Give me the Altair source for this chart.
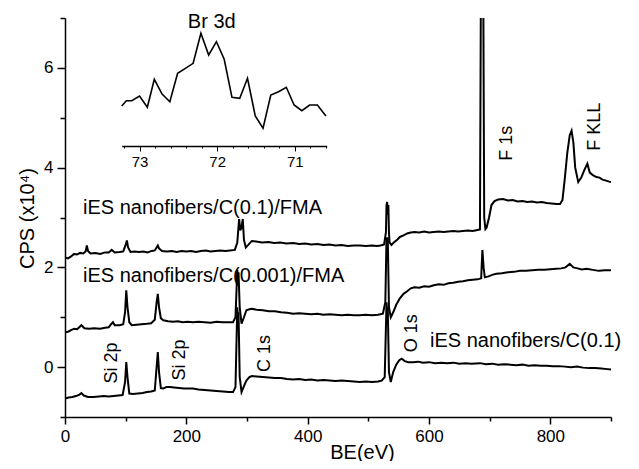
import altair as alt
import pandas as pd

FONT = "Liberation Sans"

# ---- main survey spectra: (BE in eV, CPS in 1e4) ----
spec_c01_fma = [
    (0, 2.20), (5, 2.18), (10, 2.22), (15, 2.27), (20, 2.26), (25, 2.29), (30, 2.28), (34, 2.32),
    (36, 2.44), (38, 2.33), (42, 2.28), (50, 2.29), (58, 2.27), (66, 2.30), (72, 2.30), (77, 2.35),
    (82, 2.30), (90, 2.31), (96, 2.32), (100, 2.45), (102, 2.54), (104, 2.40), (108, 2.31),
    (115, 2.32), (122, 2.31), (129, 2.32), (136, 2.30), (143, 2.33), (148, 2.34), (151, 2.40),
    (153, 2.44), (155, 2.38), (160, 2.33), (168, 2.32), (176, 2.33), (184, 2.31), (192, 2.33),
    (200, 2.32), (208, 2.33), (216, 2.31), (224, 2.33), (232, 2.34), (240, 2.32), (248, 2.33),
    (256, 2.34), (264, 2.33), (272, 2.34), (280, 2.35), (284, 2.50), (287, 2.97), (289, 2.74),
    (291, 2.80), (293, 2.97), (295, 2.55), (298, 2.40), (302, 2.45), (308, 2.53), (315, 2.52),
    (325, 2.50), (335, 2.51), (345, 2.49), (355, 2.50), (365, 2.48), (376, 2.49), (386, 2.47),
    (396, 2.48), (406, 2.46), (416, 2.47), (426, 2.45), (436, 2.46), (446, 2.44), (456, 2.45),
    (466, 2.43), (476, 2.44), (486, 2.44), (496, 2.43), (506, 2.44), (514, 2.43), (520, 2.44),
    (526, 2.46), (529, 2.70), (530, 3.25), (531, 3.31), (532, 3.05), (533, 3.25), (534, 2.70),
    (535, 2.50), (538, 2.45), (542, 2.50),
    (548, 2.56), (552, 2.61), (558, 2.64), (564, 2.68), (570, 2.70), (576, 2.71), (584, 2.70),
    (592, 2.72), (600, 2.70), (608, 2.71), (616, 2.72), (624, 2.71), (632, 2.72), (640, 2.73),
    (648, 2.72), (656, 2.73), (664, 2.74), (672, 2.73), (680, 2.75), (684, 2.76), (685.5, 7.5),
    (686.5, 7.0), (687.5, 7.5), (688.5, 7.0), (689.5, 7.5), (691, 3.0), (693, 2.77), (695, 2.80),
    (699, 3.0), (703, 3.25), (708, 3.33),
    (714, 3.36), (722, 3.37), (730, 3.34), (738, 3.35), (746, 3.32), (754, 3.33), (762, 3.31),
    (770, 3.32), (778, 3.30), (786, 3.31), (794, 3.29), (802, 3.28), (810, 3.27), (816, 3.27),
    (820, 3.35), (824, 3.80), (828, 4.30), (832, 4.65), (835, 4.74), (838, 4.50), (841, 4.00),
    (846, 3.71), (851, 3.80), (856, 3.95), (861, 4.08), (865, 3.90), (870, 3.85), (876, 3.81),
    (881, 3.80), (886, 3.76), (892, 3.74), (897, 3.72), (900, 3.71),
]

spec_c0001_fma = [
    (0, 0.70), (5, 0.71), (10, 0.74), (15, 0.77), (20, 0.76), (27, 0.84), (32, 0.78), (40, 0.77),
    (48, 0.78), (58, 0.77), (66, 0.79), (72, 0.80), (76, 0.86), (79, 0.90), (82, 0.84), (90, 0.84),
    (96, 0.86), (99, 1.10), (101, 1.54), (103, 1.20), (106, 0.90), (110, 0.84), (118, 0.85),
    (126, 0.86), (135, 0.87), (142, 0.88), (148, 0.95), (151, 1.30), (153, 1.47), (155, 1.20),
    (158, 0.98), (162, 0.94), (170, 0.92), (178, 0.91), (186, 0.92), (194, 0.90), (202, 0.91),
    (211, 0.90), (220, 0.91), (230, 0.90), (240, 0.89), (250, 0.91), (260, 0.90), (270, 0.90),
    (277, 0.90), (281, 1.00), (284, 1.95), (285, 1.80), (286, 1.90), (288, 1.20), (291, 0.87),
    (295, 1.00),
    (299, 1.14), (304, 1.16), (308, 1.17), (316, 1.15), (326, 1.14), (336, 1.12), (346, 1.12),
    (356, 1.10), (366, 1.09), (376, 1.07), (386, 1.08), (396, 1.07), (406, 1.06), (416, 1.07),
    (426, 1.05), (436, 1.06), (446, 1.05), (456, 1.04), (466, 1.05), (476, 1.04), (486, 1.04),
    (496, 1.05), (506, 1.04), (516, 1.05), (524, 1.07), (528, 1.30), (530, 2.60), (531, 2.45),
    (532, 2.60), (534, 1.20), (537, 1.00), (541, 1.10), (546, 1.25), (552, 1.38), (558, 1.47),
    (564, 1.52),
    (570, 1.58), (576, 1.60), (584, 1.59), (592, 1.62), (600, 1.61), (608, 1.64), (616, 1.66),
    (624, 1.65), (632, 1.68), (640, 1.69), (648, 1.71), (656, 1.72), (664, 1.74), (672, 1.75),
    (680, 1.76), (686, 1.78), (688, 2.35), (690, 2.00), (692, 1.80), (698, 1.82), (704, 1.85),
    (711, 1.87), (720, 1.88), (730, 1.90), (740, 1.91), (750, 1.93), (760, 1.93), (770, 1.94),
    (780, 1.95), (790, 1.95), (800, 1.96), (810, 1.97), (818, 1.98), (825, 2.00), (832, 2.07),
    (838, 2.00), (845, 1.98), (852, 1.96), (860, 1.97), (870, 1.95), (880, 1.93), (890, 1.94),
    (900, 1.94),
]

spec_c01 = [
    (0, -0.63), (6, -0.61), (12, -0.60), (18, -0.58), (24, -0.55), (27, -0.52), (31, -0.57),
    (38, -0.60), (47, -0.60), (56, -0.59), (64, -0.58), (72, -0.59), (80, -0.58), (88, -0.57),
    (95, -0.56), (99, -0.30), (101, 0.10), (103, -0.20), (106, -0.53), (112, -0.54), (120, -0.53),
    (128, -0.52), (135, -0.50), (142, -0.49), (148, -0.47), (151, 0.00), (153, 0.30), (155, -0.10),
    (158, -0.42), (162, -0.43), (167, -0.40), (173, -0.40), (180, -0.41), (188, -0.42),
    (196, -0.43), (204, -0.43), (211, -0.43), (220, -0.45), (230, -0.46), (240, -0.47),
    (250, -0.48), (260, -0.49), (270, -0.50), (277, -0.50), (281, -0.40), (284, 1.20), (285, 1.00),
    (286, 1.10),
    (288, -0.20), (291, -0.50), (295, -0.38), (299, -0.27), (304, -0.20), (308, -0.18),
    (316, -0.19), (326, -0.20), (336, -0.21), (346, -0.22), (356, -0.22), (366, -0.24),
    (376, -0.25), (386, -0.24), (396, -0.26), (406, -0.25), (416, -0.27), (426, -0.26),
    (436, -0.27), (446, -0.28), (456, -0.27), (466, -0.28), (476, -0.29), (486, -0.30),
    (496, -0.29), (506, -0.30), (516, -0.29), (522, -0.27), (527, -0.20), (530, 1.30), (531, 1.10),
    (532, 1.20),
    (534, -0.10), (537, -0.30), (541, -0.10), (546, 0.05), (551, 0.14), (555, 0.17), (560, 0.12),
    (566, 0.10), (574, 0.10), (582, 0.11), (590, 0.09), (600, 0.10), (610, 0.08), (620, 0.09),
    (630, 0.08), (640, 0.09), (650, 0.07), (660, 0.08), (670, 0.07), (684, 0.08), (694, 0.06),
    (704, 0.07), (714, 0.05), (724, 0.06), (734, 0.05), (744, 0.04), (754, 0.05), (764, 0.03),
    (774, 0.04), (784, 0.03), (794, 0.03), (804, 0.02), (814, 0.02), (824, 0.01), (834, 0.00),
    (844, 0.01), (854, -0.01), (864, -0.02), (874, -0.02), (884, -0.03), (894, -0.04), (900, -0.05),
]

# ---- inset: Br 3d high-resolution region ----
br3d_be = [73.23, 73.17, 73.10, 73.00, 72.90, 72.81, 72.71, 72.61, 72.51, 72.41, 72.31, 72.21,
           72.11, 72.01, 71.91, 71.81, 71.71, 71.61, 71.51, 71.41, 71.31, 71.21, 71.11, 71.01,
           70.91, 70.81, 70.71, 70.60]
br3d_cps = [40.0, 45.3, 45.3, 50.0, 38.7, 66.7, 52.0, 44.3, 72.7, 77.7, 82.7, 112.7,
            91.0, 104.3, 86.7, 48.7, 47.7, 67.7, 30.0, 17.7, 51.0, 54.3, 58.7, 41.0,
            35.3, 41.0, 41.0, 30.0]

x_ticks = [0, 100, 200, 300, 400, 500, 600, 700, 800, 900]
y_ticks = [-1, 0, 1, 2, 3, 4, 5, 6, 7]
inset_ticks = [70.6, 70.7, 70.8, 70.9, 71.0, 71.1, 71.2, 71.3, 71.4, 71.5, 71.6, 71.7, 71.8, 71.9,
               72.0, 72.1, 72.2, 72.3, 72.4, 72.5, 72.6, 72.7, 72.8, 72.9, 73.0, 73.1, 73.2]

labels_h = ["iES nanofibers/C(0.1)/FMA", "iES nanofibers/C(0.001)/FMA", "iES nanofibers/C(0.1)"]
labels_h_be = [29.7, 29.7, 601.6]
labels_h_cps = [3.07, 1.70, 0.40]

labels_r = ["Si 2p", "Si 2p", "C 1s", "O 1s", "F 1s", "F KLL"]
labels_r_be = [85, 198, 338, 580, 736, 882]
labels_r_cps = [-0.33, -0.27, -0.10, 0.30, 4.14, 4.34]

rows = []
for name, spec in [("C(0.1)/FMA", spec_c01_fma), ("C(0.001)/FMA", spec_c0001_fma), ("C(0.1)", spec_c01)]:
    for be, cps in spec:
        rows.append({"series": name, "be": be, "cps": cps})
df = pd.DataFrame(rows)
inset_df = pd.DataFrame({"be": br3d_be, "cps": br3d_cps})
lh_df = pd.DataFrame({"text": labels_h, "be": labels_h_be, "cps": labels_h_cps})
lr_df = pd.DataFrame({"text": labels_r, "be": labels_r_be, "cps": labels_r_cps})

x_main = alt.X(
    "be:Q",
    scale=alt.Scale(domain=[0, 900], nice=False, zero=False),
    axis=alt.Axis(
        orient="bottom", values=x_ticks, grid=False,
        labelExpr="datum.value % 200 === 0 ? datum.label : ''",
        tickSize={"condition": {"test": "datum.value % 200 === 0", "value": 7}, "value": 4},
        labelFlush=False, labelOverlap=False, labelFontSize=17, labelPadding=4, labelFont=FONT,
        labelColor="black", domainColor="black", domainWidth=1.5, tickColor="black", tickWidth=1.5,
        title="BE(eV)", titleX=297, titleY=41, titleAlign="center", titleBaseline="alphabetic",
        titleFontSize=20, titleFontWeight="normal", titleFont=FONT, titleColor="black",
    ),
)
y_main = alt.Y(
    "cps:Q",
    scale=alt.Scale(domain=[-1, 7], nice=False, zero=False),
    axis=alt.Axis(
        values=y_ticks, grid=False,
        labelExpr="datum.value % 2 === 0 ? datum.label : ''",
        tickSize={"condition": {"test": "datum.value % 2 === 0", "value": 8}, "value": 5},
        labelFlush=False, labelOverlap=False, labelFontSize=17, labelPadding=4, labelFont=FONT,
        labelColor="black", domainColor="black", domainWidth=1.5, tickColor="black", tickWidth=1.5,
        title="CPS (x10⁴)", titleX=-32, titleY=200, titleAngle=270, titleAlign="center",
        titleBaseline="alphabetic", titleFontSize=20, titleFontWeight="normal", titleFont=FONT,
        titleColor="black",
    ),
)

spectra = alt.Chart(df).mark_line(color="black", strokeWidth=2, clip=True).encode(
    x=x_main, y=y_main, detail="series:N"
)
text_h = alt.Chart(lh_df).mark_text(
    align="left", baseline="alphabetic", fontSize=20, font=FONT, color="black"
).encode(x="be:Q", y="cps:Q", text="text:N")
text_r = alt.Chart(lr_df).mark_text(
    align="left", baseline="alphabetic", angle=270, fontSize=18, font=FONT, color="black"
).encode(x="be:Q", y="cps:Q", text="text:N")
main = alt.layer(spectra, text_h, text_r)

x_inset = alt.X(
    "be:Q",
    scale=alt.Scale(domain=[70.59, 73.23], range=[261.7, 56.7], nice=False, zero=False),
    axis=alt.Axis(
        orient="bottom", offset=-271, values=inset_ticks, grid=False, title=None,
        labelExpr="abs(datum.value - round(datum.value)) < 0.01 ? format(datum.value, 'd') : ''",
        tickSize={"condition": {"test": "abs(datum.value - round(datum.value)) < 0.01", "value": 5}, "value": 2},
        labelFlush=False, labelOverlap=False, labelFontSize=15, labelPadding=3, labelFont=FONT,
        labelColor="black", domainColor="black", domainWidth=1.5, tickColor="black", tickWidth=1,
    ),
)
y_inset = alt.Y("cps:Q", scale=alt.Scale(domain=[0, 128], range=[128, 0], nice=False, zero=False), axis=None)

inset_line = alt.Chart(inset_df).mark_line(color="black", strokeWidth=1.6).encode(x=x_inset, y=y_inset)
inset_title = alt.Chart(pd.DataFrame({"text": ["Br 3d"], "be": [72.07], "cps": [118]})).mark_text(
    align="center", baseline="alphabetic", fontSize=20, font=FONT, color="black"
).encode(x=alt.X("be:Q"), y=alt.Y("cps:Q"), text="text:N")
inset = alt.layer(inset_line, inset_title)

chart = alt.layer(main, inset).resolve_scale(x="independent", y="independent").resolve_axis(
    x="independent", y="independent"
).properties(
    width=546, height=399,
    padding={"left": 57, "top": 10, "right": 20, "bottom": 44},
    autosize=alt.AutoSizeParams(type="none"),
    background="white",
).configure_view(stroke=None)

chart.save("out.html", embed_options={"renderer": "svg", "actions": False})
